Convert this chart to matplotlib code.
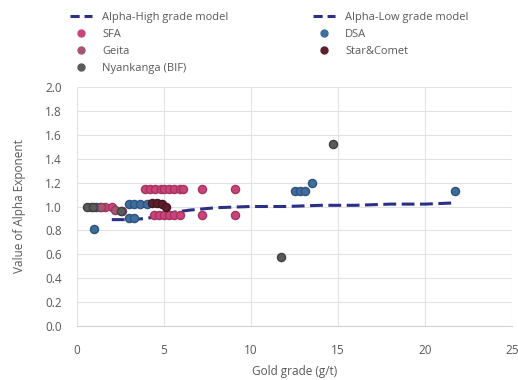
import matplotlib
matplotlib.use("Agg")
import matplotlib.pyplot as plt
from matplotlib.lines import Line2D

plt.rcParams['font.family'] = ['Open Sans', 'DejaVu Sans']

# Model lines
low_x = [2.0, 3.0, 4.0, 5.0]
low_y = [0.89, 0.89, 0.90, 0.93]
high_x = [5.0, 5.5, 6.5, 8.0, 10.0, 12.0, 14.0, 16.0, 18.0, 20.0, 21.7]
high_y = [0.93, 0.95, 0.97, 0.99, 1.00, 1.00, 1.01, 1.01, 1.02, 1.02, 1.03]

# Scatter series
sfa_x = [1.3, 1.6, 2.0, 3.9, 4.2, 4.5, 4.8, 5.0, 5.3, 5.6, 5.9, 6.1, 7.2, 9.1,
         4.4, 4.7, 5.0, 5.3, 5.6, 5.9, 7.2, 9.1]
sfa_y = [1.0, 1.0, 1.0, 1.15, 1.15, 1.15, 1.15, 1.15, 1.15, 1.15, 1.15, 1.15, 1.15, 1.15,
         0.93, 0.93, 0.93, 0.93, 0.93, 0.93, 0.93, 0.93]
dsa_x = [0.8, 1.0, 1.1, 3.0, 3.3, 3.6, 4.0, 3.0, 3.3, 12.5, 12.8, 13.1, 13.5, 21.7]
dsa_y = [1.0, 0.81, 1.0, 1.02, 1.02, 1.02, 1.02, 0.90, 0.90, 1.13, 1.13, 1.13, 1.20, 1.13]
geita_x = [1.4, 2.2, 2.6]
geita_y = [1.0, 0.97, 0.96]
star_x = [4.3, 4.6, 4.9, 5.1]
star_y = [1.03, 1.03, 1.02, 1.00]
nyan_x = [0.6, 0.9, 2.5, 11.7, 14.7]
nyan_y = [1.0, 1.0, 0.96, 0.58, 1.52]

line_color = '#2b2f86'
text_color = '#595959'
grid_color = '#e2e2e2'
dash = (4.2, 1.8)

fig = plt.figure(figsize=(5.18, 3.80), dpi=100)
ax = fig.add_axes([77/518, 1 - 326/380, 435/518, 239/380])

ax.plot(high_x, high_y, color=line_color, lw=2.2, dashes=dash, zorder=3)
ax.plot(low_x, low_y, color=line_color, lw=2.2, dashes=dash, zorder=3)

mk = dict(s=34, linewidths=1.0, zorder=4)
ax.scatter(sfa_x, sfa_y, color='#c9447a', edgecolors='#a8325f', **mk)
ax.scatter(dsa_x, dsa_y, color='#3f6e9c', edgecolors='#2d5380', **mk)
ax.scatter(geita_x, geita_y, color='#a65572', edgecolors='#86405a', **mk)
ax.scatter(star_x, star_y, color='#5e1f2c', edgecolors='#451520', **mk)
ax.scatter(nyan_x, nyan_y, color='#5a5a5a', edgecolors='#404040', **mk)

ax.set_xlim(0, 25)
ax.set_ylim(0, 2.0)
ax.set_xticks([0, 5, 10, 15, 20, 25])
ax.set_yticks([i * 0.2 for i in range(11)])
ax.set_yticklabels([f"{i*0.2:.1f}" for i in range(11)])
ax.grid(True, color=grid_color, lw=0.8)
ax.set_axisbelow(True)
for s in ['top', 'right', 'left']:
    ax.spines[s].set_visible(False)
ax.spines['bottom'].set_color('#d0d0d0')
ax.tick_params(axis='both', length=0, labelsize=8.5, colors=text_color)
ax.tick_params(axis='y', pad=11)
ax.tick_params(axis='x', pad=13)
ax.set_xlabel('Gold grade (g/t)', fontsize=8.5, color=text_color, labelpad=6)
ax.set_ylabel('Value of Alpha Exponent', fontsize=8.5, color=text_color, labelpad=14)

handles = [
    Line2D([], [], color=line_color, lw=2.2, dashes=(3, 1.6)),
    Line2D([], [], marker='o', ls='', color='#c9447a', markersize=5),
    Line2D([], [], marker='o', ls='', color='#a65572', markersize=5),
    Line2D([], [], marker='o', ls='', color='#5a5a5a', markersize=5),
    Line2D([], [], color=line_color, lw=2.2, dashes=(3, 1.6)),
    Line2D([], [], marker='o', ls='', color='#3f6e9c', markersize=5),
    Line2D([], [], marker='o', ls='', color='#5e1f2c', markersize=5),
]
labels = ['Alpha-High grade model', 'SFA', 'Geita', 'Nyankanga (BIF)',
          'Alpha-Low grade model', 'DSA', 'Star&Comet']
leg = fig.legend(handles, labels, ncol=2, loc='upper left',
                 bbox_to_anchor=(60/518, 1 - 2/380), frameon=False,
                 fontsize=8, handlelength=2.0, handletextpad=0.9,
                 columnspacing=7.6, labelspacing=0.55, labelcolor=text_color)

fig.savefig('out.png', dpi=100)
